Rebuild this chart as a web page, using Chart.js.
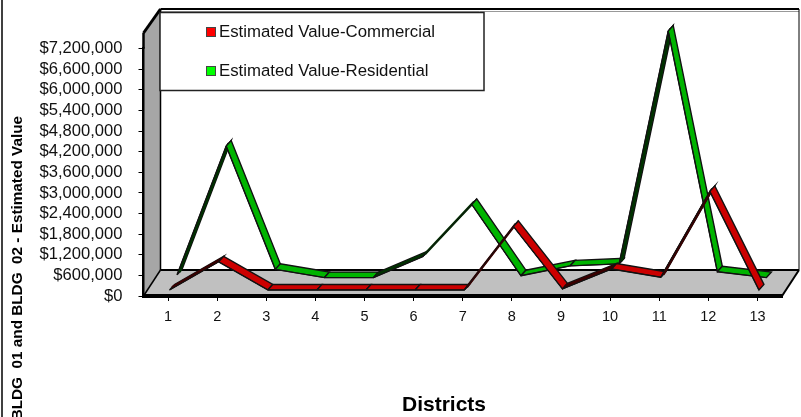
<!DOCTYPE html>
<html>
<head>
<meta charset="utf-8">
<style>
  html, body { margin: 0; padding: 0; background: #fff; }
  canvas { display: block; }
</style>
<script src="https://cdn.jsdelivr.net/npm/chart.js@4"></script>
</head>
<body>
<canvas id="districtChart" width="801" height="417"></canvas>
<script>
const districts = ['1', '2', '3', '4', '5', '6', '7', '8', '9', '10', '11', '12', '13'];
const commercial = [30000, 850000, 30000, 30000, 30000, 30000, 30000, 1880000, 60000, 640000, 400000, 2900000, 30000];
const residential = [150000, 3900000, 310000, 70000, 70000, 680000, 2200000, 125000, 410000, 470000, 7250000, 240000, 70000];
const seriesNames = ['Estimated Value-Commercial', 'Estimated Value-Residential'];
const yTitle = 'BLDG  01 and BLDG  02 - Estimated Value';
const xTitle = 'Districts';

const FONT = '"Liberation Sans", Arial, sans-serif';

// ribbon look of each series: front edge offset, depth of the ribbon, colours
const ribbons = [
    { dx: 1.5, dy: -5, depthX: 5, depthY: -5.5, bright: '#cc0000', dark: '#6e0000', rim: '#3a0000', swatch: '#ff0000' },
    { dx: 9, dy: -16, depthX: 5, depthY: -5.5, bright: '#00b400', dark: '#005a00', rim: '#003000', swatch: '#00ff00' }
];

const line = (ctx, pts, width, color) => {
    ctx.beginPath();
    pts.forEach((p, i) => i ? ctx.lineTo(p[0], p[1]) : ctx.moveTo(p[0], p[1]));
    ctx.lineWidth = width;
    ctx.strokeStyle = color;
    ctx.stroke();
};

const poly = (ctx, pts, fill) => {
    ctx.beginPath();
    pts.forEach((p, i) => i ? ctx.lineTo(p[0], p[1]) : ctx.moveTo(p[0], p[1]));
    ctx.closePath();
    ctx.fillStyle = fill;
    ctx.fill();
};

// walls and floor of the 3D box, behind the axes
const boxPlugin = {
    id: 'box',
    beforeDraw(chart) {
        const ctx = chart.ctx;
        const { left, right, top, bottom } = chart.chartArea;
        const bx = 17, by = -26;
        const wallFront = top - 15.7; // side wall rises above the last tick
        const wallTop = 9;
        ctx.save();
        ctx.fillStyle = '#fff';
        ctx.fillRect(0, 0, chart.width, chart.height);
        line(ctx, [[2, 0], [2, 417]], 1.5, '#000');
        poly(ctx, [[left, wallFront], [left + bx, wallTop], [left + bx, bottom + by], [left, bottom]], '#a6a6a6');
        poly(ctx, [[left, bottom], [right, bottom], [right + bx, bottom + by], [left + bx, bottom + by]], '#c0c0c0');
        line(ctx, [[left, wallFront], [left, top]], 2.5, '#000');
        line(ctx, [[left, wallFront], [left + bx, wallTop]], 3, '#000');
        line(ctx, [[left + bx, wallTop], [right + bx, wallTop]], 2, '#000');
        line(ctx, [[left + bx, wallTop + 2.5], [right + bx, wallTop + 2.5]], 1, '#999');
        line(ctx, [[left + bx, wallTop], [left + bx, bottom + by]], 1.5, '#000');
        line(ctx, [[right + bx, wallTop], [right + bx, bottom + by]], 1, '#000');
        line(ctx, [[left, bottom], [left + bx, bottom + by]], 1.5, '#000');
        line(ctx, [[left + bx, bottom + by], [right + bx, bottom + by]], 2, '#000');
        line(ctx, [[right, bottom], [right + bx, bottom + by]], 2, '#000');
        ctx.restore();
    },
    afterDraw(chart) {
        const ctx = chart.ctx;
        ctx.save();
        // legend box
        ctx.fillStyle = '#fff';
        ctx.fillRect(160, 12.5, 324, 78);
        ctx.lineWidth = 1.5;
        ctx.strokeStyle = '#222';
        ctx.strokeRect(160, 12.5, 324, 78);
        ctx.font = '16.8px ' + FONT;
        ctx.textAlign = 'left';
        ctx.textBaseline = 'middle';
        [32, 71].forEach((y, i) => {
            ctx.fillStyle = ribbons[i].swatch;
            ctx.fillRect(206.5, y - 4.5, 9, 9);
            ctx.lineWidth = 1;
            ctx.strokeStyle = '#444';
            ctx.strokeRect(206.5, y - 4.5, 9, 9);
            ctx.fillStyle = '#111';
            ctx.fillText(seriesNames[i], 219, y + 0.5);
        });
        // axis titles
        ctx.fillStyle = '#000';
        ctx.font = 'bold 21px ' + FONT;
        ctx.textAlign = 'center';
        ctx.fillText(xTitle, 444, 405);
        ctx.translate(18, 116);
        ctx.rotate(-Math.PI / 2);
        ctx.font = 'bold 15.3px ' + FONT;
        ctx.textAlign = 'right';
        ctx.fillText(yTitle, 0, 0);
        ctx.restore();
    }
};

// paints each line as a ribbon going back into the box
const ribbonPlugin = {
    id: 'ribbon',
    beforeDatasetDraw(chart, args) {
        const ctx = chart.ctx;
        const r = ribbons[args.index];
        const pts = args.meta.data;
        ctx.save();
        ctx.translate(r.dx, r.dy);
        for (let i = 0; i < pts.length - 1; i++) {
            const a = pts[i], b = pts[i + 1];
            const rising = (a.y - b.y) / (b.x - a.x) > 0.3;
            const quad = [[a.x, a.y], [b.x, b.y], [b.x + r.depthX, b.y + r.depthY], [a.x + r.depthX, a.y + r.depthY]];
            poly(ctx, quad, rising ? r.dark : r.bright);
            line(ctx, quad.concat([quad[0]]), 1.4, '#111');
            if (rising) {
                // nearly edge-on face still reads as a thick dark line
                const mx = r.depthX / 2, my = r.depthY / 2;
                line(ctx, [[a.x + mx, a.y + my], [b.x + mx, b.y + my]], 2.5, r.rim);
            }
        }
    },
    afterDatasetDraw(chart) {
        chart.ctx.restore();
    }
};

new Chart(document.getElementById('districtChart').getContext('2d'), {
    type: 'line',
    data: {
        labels: districts,
        datasets: [
            { label: seriesNames[0], data: commercial, borderColor: '#111', borderWidth: 1, pointRadius: 0, tension: 0, clip: false },
            { label: seriesNames[1], data: residential, borderColor: '#111', borderWidth: 1, pointRadius: 0, tension: 0, clip: false }
        ]
    },
    options: {
        responsive: false,
        animation: false,
        devicePixelRatio: 1,
        layout: { padding: { left: 0, right: 19, top: 48.7, bottom: 0 } },
        plugins: { legend: { display: false }, tooltip: { enabled: false } },
        scales: {
            x: {
                offset: true,
                afterFit: (scale) => { scale.height = 121; },
                border: { color: '#000', width: 4 },
                grid: { drawOnChartArea: false, tickLength: 5, tickColor: '#000', tickWidth: 1 },
                ticks: { color: '#111', padding: 7, maxRotation: 0, autoSkip: false, font: { family: FONT, size: 14.5 } }
            },
            y: {
                min: 0,
                max: 7200000,
                afterFit: (scale) => { scale.width = 143.5; },
                border: { color: '#000', width: 2.5 },
                grid: { drawOnChartArea: false, tickLength: 5, tickColor: '#000', tickWidth: 1 },
                ticks: {
                    stepSize: 600000,
                    autoSkip: false,
                    maxTicksLimit: 20,
                    color: '#111',
                    padding: 16,
                    font: { family: FONT, size: 16.6 },
                    callback: (v) => '$' + v.toLocaleString('en-US')
                }
            }
        }
    },
    plugins: [boxPlugin, ribbonPlugin]
});
</script>
</body>
</html>
